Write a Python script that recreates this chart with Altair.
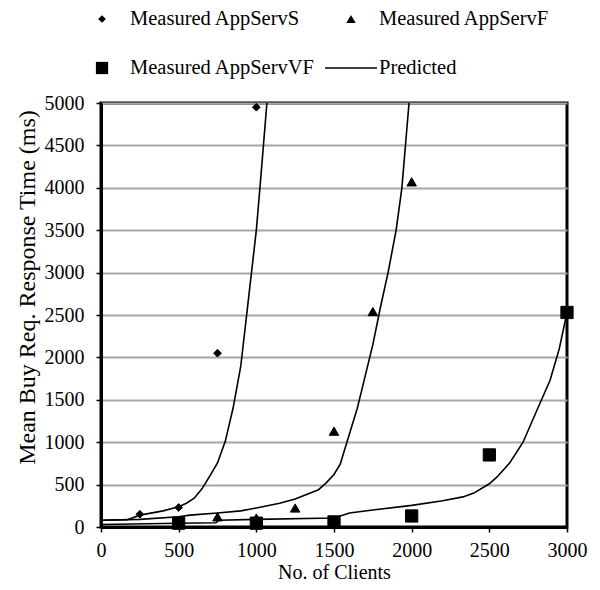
import altair as alt
import pandas as pd

# ---- data ----
series_names = ["Measured AppServS", "Measured AppServF", "Measured AppServVF", "Predicted"]
# last symbol is a thin horizontal bar (a line sample) drawn as a custom path
series_shapes = ["diamond", "triangle-up", "square", "M-1,-0.03H1V0.03H-1Z"]
series_sizes = [60, 90, 150, 2700]

s_x = [250, 500, 750, 1000]
s_y = [150, 230, 2050, 4950]

f_x = [750, 1000, 1250, 1500, 1750, 2000]
f_y = [120, 106, 224, 1130, 2540, 4070]

vf_x = [500, 1000, 1500, 2000, 2500, 3000]
vf_y = [45, 45, 60, 130, 850, 2530]

pred_s_x = [0, 170, 250, 400, 500, 550, 600, 650, 700, 750, 800, 850, 900, 950, 1000, 1030, 1068]
pred_s_y = [80, 85, 140, 190, 240, 280, 340, 450, 600, 755, 1010, 1400, 1900, 2700, 3500, 4150, 5000]

pred_f_x = [0, 250, 500, 573, 750, 900, 1000, 1150, 1250, 1400, 1450, 1500, 1540, 1583, 1650, 1690,
            1750, 1800, 1848, 1900, 1937, 1983]
pred_f_y = [80, 90, 120, 140, 165, 190, 225, 280, 330, 440, 520, 620, 740, 1000, 1400, 1700,
            2150, 2600, 3000, 3500, 4000, 5000]

pred_vf_x = [0, 500, 740, 760, 1000, 1500, 1600, 1750, 2000, 2200, 2330, 2400, 2500, 2550, 2633,
             2717, 2800, 2891, 2950, 3000]
pred_vf_y = [30, 45, 50, 80, 90, 106, 165, 200, 255, 310, 355, 400, 510, 590, 760,
             1000, 1350, 1730, 2100, 2530]

x_ticks = [0, 500, 1000, 1500, 2000, 2500, 3000]
y_ticks = [0, 500, 1000, 1500, 2000, 2500, 3000, 3500, 4000, 4500, 5000]

# legend is filled column by column: reorder so rows read S, F / VF, Predicted
order = [0, 2, 1, 3]
leg_domain = [series_names[i] for i in order]
leg_shapes = [series_shapes[i] for i in order]
leg_sizes = [series_sizes[i] for i in order]

# ---- tables ----
pts = pd.DataFrame(
    [{"x": a, "y": b, "series": series_names[0]} for a, b in zip(s_x, s_y)]
    + [{"x": a, "y": b, "series": series_names[1]} for a, b in zip(f_x, f_y)]
    + [{"x": a, "y": b, "series": series_names[2]} for a, b in zip(vf_x, vf_y)]
)
lines = pd.DataFrame(
    [{"x": a, "y": b, "curve": "S"} for a, b in zip(pred_s_x, pred_s_y)]
    + [{"x": a, "y": b, "curve": "F"} for a, b in zip(pred_f_x, pred_f_y)]
    + [{"x": a, "y": b, "curve": "VF"} for a, b in zip(pred_vf_x, pred_vf_y)]
)

FONT = "Liberation Serif"

xscale = alt.Scale(domain=[0, 3000], nice=False)
yscale = alt.Scale(domain=[0, 5000], nice=False)

xaxis = alt.Axis(values=x_ticks, grid=False, title="No. of Clients", tickSize=5, format="d",
                 labelFlush=False, labelPadding=8, titleY=45, titleBaseline="middle",
                 titleFontSize=20)
yaxis = alt.Axis(values=y_ticks, grid=True, gridColor="#a6a6a6", gridWidth=2, format="d",
                 labelFlush=False,
                 title="Mean Buy Req. Response Time (ms)", tickSize=5, labelPadding=12,
                 titleX=-74, titleY=184, titleBaseline="middle", titleAlign="center",
                 titleAngle=270, titleFontSize=24)

legend_common = dict(
    title=None, orient="none", legendX=-26, legendY=-96,
    columns=2, columnPadding=8, rowPadding=25, clipHeight=24,
    labelFont=FONT, labelFontSize=20.5, labelColor="black", labelOffset=1,
    labelLimit=400, symbolStrokeColor="black", symbolFillColor="black",
    symbolStrokeWidth=1.5,
)

line_layer = alt.Chart(lines).mark_line(color="black", strokeWidth=1.6).encode(
    x=alt.X("x:Q", scale=xscale, axis=xaxis),
    y=alt.Y("y:Q", scale=yscale, axis=yaxis),
    detail="curve:N",
    order="x:Q",
)

point_layer = alt.Chart(pts).mark_point(
    filled=False, stroke="black", fill="black", strokeWidth=1, opacity=1, fillOpacity=1
).encode(
    x=alt.X("x:Q", scale=xscale),
    y=alt.Y("y:Q", scale=yscale),
    shape=alt.Shape("series:N",
                    scale=alt.Scale(domain=leg_domain, range=leg_shapes),
                    legend=alt.Legend(**legend_common)),
    size=alt.Size("series:N",
                  scale=alt.Scale(type="ordinal", domain=leg_domain, range=leg_sizes),
                  legend=alt.Legend(**legend_common)),
)

chart = alt.layer(line_layer, point_layer).properties(
    width=466, height=424,
    background="white",
    autosize=alt.AutoSizeParams(type="none"),
    padding={"left": 93, "top": 95, "right": 25, "bottom": 60},
).configure_view(
    stroke="black", strokeWidth=3
).configure_axis(
    labelFont=FONT, labelFontSize=20, labelColor="black",
    titleFont=FONT, titleColor="black", titleFontWeight="normal",
    domainColor="black", domainWidth=3, tickColor="black", tickWidth=1.5,
)

chart.save("out.html", embed_options={"renderer": "svg", "actions": False})
